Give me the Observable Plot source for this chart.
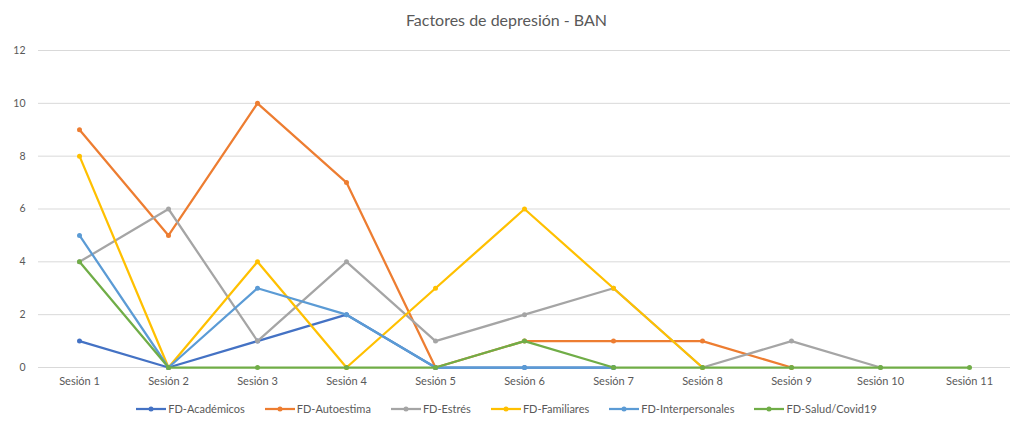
<!DOCTYPE html>
<html>
<head>
<meta charset="utf-8">
<script src="https://cdn.jsdelivr.net/npm/d3@7"></script>
<script src="https://cdn.jsdelivr.net/npm/@observablehq/plot@0.6"></script>
<style>
  html, body { margin: 0; padding: 0; background: #fff; }
  body { width: 1013px; height: 422px; overflow: hidden; font-family: Lato, "Open Sans", sans-serif; color: #595959; }
  #title { height: 40px; line-height: 40px; text-align: center; font-size: 16px; color: #595959; }
  #legend { display: flex; justify-content: center; gap: 20px; font-size: 11px; color: #595959; height: 27px; align-items: center; padding-left: 0px; }
  .item { display: flex; align-items: center; gap: 2px; }
</style>
</head>
<body>
<div id="title">Factores de depresión - BAN</div>
<div id="chart"></div>
<div id="legend"></div>
<script>
const sessions = ["Sesión 1","Sesión 2","Sesión 3","Sesión 4","Sesión 5","Sesión 6","Sesión 7","Sesión 8","Sesión 9","Sesión 10","Sesión 11"];
const seriesNames = ["FD-Académicos","FD-Autoestima","FD-Estrés","FD-Familiares","FD-Interpersonales","FD-Salud/Covid19"];
const academicos      = [1, 0, 1, 2, 0, 0, 0, null, null, null, null];
const autoestima      = [9, 5, 10, 7, 0, 1, 1, 1, 0, null, null];
const estres          = [4, 6, 1, 4, 1, 2, 3, 0, 1, 0, null];
const familiares      = [8, 0, 4, 0, 3, 6, 3, 0, null, null, null];
const interpersonales = [5, 0, 3, 2, 0, 0, 0, null, null, null, null];
const salud           = [4, 0, 0, 0, 0, 1, 0, 0, 0, 0, 0];
const yTicks = [0, 2, 4, 6, 8, 10, 12];
const colors = ["#4472C4", "#ED7D31", "#A5A5A5", "#FFC000", "#5B9BD5", "#70AD47"];

const allValues = [academicos, autoestima, estres, familiares, interpersonales, salud];
const tables = allValues.map((vals, i) =>
  vals.map((v, j) => ({session: sessions[j], value: v, series: seriesNames[i]})).filter(d => d.value != null)
);

const marks = [
  Plot.gridY(yTicks, {stroke: "#d9d9d9", strokeOpacity: 1, strokeWidth: 1})
];
tables.forEach((t, i) => {
  marks.push(Plot.line(t, {x: "session", y: "value", stroke: colors[i], strokeWidth: 2.25}));
  marks.push(Plot.dot(t, {x: "session", y: "value", fill: colors[i], r: 2.5}));
});
marks.push(Plot.axisY(yTicks, {tickSize: 0, tickPadding: 13, fontSize: 10.5, fill: "#595959"}));
marks.push(Plot.axisX({tickSize: 0, tickPadding: 10, fontSize: 11, fill: "#595959"}));

const chart = Plot.plot({
  width: 1013,
  height: 355,
  marginLeft: 38,
  marginRight: 3,
  marginTop: 10,
  marginBottom: 28,
  style: {fontFamily: "Lato, 'Open Sans', sans-serif", background: "#fff"},
  x: {type: "point", domain: sessions, padding: 0.46, label: null},
  y: {domain: [0, 12], label: null},
  marks
});
document.getElementById("chart").appendChild(chart);

const legend = document.getElementById("legend");
seriesNames.forEach((name, i) => {
  const item = document.createElement("div");
  item.className = "item";
  item.innerHTML = `<svg width="30" height="8"><line x1="0" y1="4" x2="30" y2="4" stroke="${colors[i]}" stroke-width="2.25"/><circle cx="15" cy="4" r="2.5" fill="${colors[i]}"/></svg><span>${name}</span>`;
  legend.appendChild(item);
});
</script>
</body>
</html>
